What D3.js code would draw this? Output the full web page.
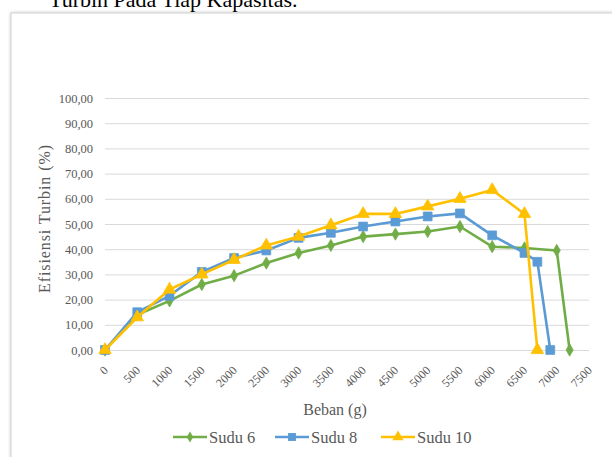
<!DOCTYPE html>
<html>
<head>
<meta charset="utf-8">
<script src="https://cdn.jsdelivr.net/npm/d3@7"></script>
<style>
  html, body { margin: 0; padding: 0; background: #fff; overflow: hidden; }
  svg { display: block; }
</style>
</head>
<body>
<svg id="chart" width="612" height="457"></svg>
<script>
// Beban (g) for each series
const loads6  = [0, 500, 1000, 1500, 2000, 2500, 3000, 3500, 4000, 4500, 5000, 5500, 6000, 6500, 7000, 7200];
const loads8  = [0, 500, 1000, 1500, 2000, 2500, 3000, 3500, 4000, 4500, 5000, 5500, 6000, 6500, 6700, 6900];
const loads10 = [0, 500, 1000, 1500, 2000, 2500, 3000, 3500, 4000, 4500, 5000, 5500, 6000, 6500, 6700];

// Efisiensi turbin (%)
const sudu6  = [0, 14.0, 19.5, 26.0, 29.5, 34.5, 38.5, 41.5, 45.0, 46.0, 47.0, 49.0, 41.0, 40.5, 39.5, 0];
const sudu8  = [0, 15.0, 21.5, 31.0, 36.5, 39.5, 44.5, 46.5, 49.0, 51.0, 53.0, 54.2, 45.5, 38.5, 35.0, 0];
const sudu10 = [0, 13.0, 24.0, 30.0, 35.8, 41.5, 45.0, 49.5, 54.0, 54.0, 57.0, 60.0, 63.5, 54.0, 0];

const seriesNames = ["Sudu 6", "Sudu 8", "Sudu 10"];
const xTicks = d3.range(0, 7501, 500);
const yTicks = d3.range(0, 101, 10);

const colors = { "Sudu 6": "#70ad47", "Sudu 8": "#5b9bd5", "Sudu 10": "#ffc000" };
const shapes = { "Sudu 6": d3.symbolDiamond, "Sudu 8": d3.symbolSquare, "Sudu 10": d3.symbolTriangle };
const sizes  = { "Sudu 6": 44, "Sudu 8": 78, "Sudu 10": 68 };

const series = [
  { name: "Sudu 6",  pts: loads6.map((x, i) => [x, sudu6[i]]) },
  { name: "Sudu 8",  pts: loads8.map((x, i) => [x, sudu8[i]]) },
  { name: "Sudu 10", pts: loads10.map((x, i) => [x, sudu10[i]]) }
];

const svg = d3.select("#chart");
const serif = "'Liberation Serif', 'Times New Roman', serif";

// page heading above the figure frame
svg.append("text")
  .attr("x", 49).attr("y", 7)
  .attr("font-family", serif).attr("font-size", 22)
  .attr("fill", "#000")
  .text("Turbin Pada Tiap Kapasitas.");

// figure frame with soft shadow
const defs = svg.append("defs");
const f = defs.append("filter").attr("id", "shadow")
  .attr("x", "-5%").attr("y", "-5%").attr("width", "110%").attr("height", "110%");
f.append("feDropShadow").attr("dx", 0).attr("dy", 0).attr("stdDeviation", 1.8)
  .attr("flood-color", "#000").attr("flood-opacity", 0.25);

svg.append("rect")
  .attr("x", 11).attr("y", 13).attr("width", 640).attr("height", 480)
  .attr("fill", "#fff").attr("stroke", "#d0d0d0").attr("stroke-width", 1)
  .attr("filter", "url(#shadow)");

const plot = { left: 105, right: 589, top: 98, bottom: 350 };

const x = d3.scaleLinear().domain([0, 7500]).range([plot.left, plot.right]);
const y = d3.scaleLinear().domain([0, 100]).range([plot.bottom, plot.top]);

// horizontal gridlines + y labels
const yAxis = d3.axisLeft(y)
  .tickValues(yTicks)
  .tickSize(-(plot.right - plot.left))
  .tickPadding(12)
  .tickFormat(d => d3.format(".2f")(d).replace(".", ","));

const gy = svg.append("g")
  .attr("transform", `translate(${plot.left},0)`)
  .call(yAxis);
gy.select(".domain").remove();
gy.selectAll(".tick line").attr("stroke", "#d9d9d9").attr("stroke-width", 1);
gy.selectAll(".tick text")
  .attr("font-family", serif).attr("font-size", 12.5).attr("fill", "#595959");

// x labels, rotated
const xAxis = d3.axisBottom(x).tickValues(xTicks).tickSize(0).tickFormat(d3.format("d"));
const gx = svg.append("g")
  .attr("transform", `translate(0,${plot.bottom})`)
  .call(xAxis);
gx.select(".domain").remove();
gx.selectAll(".tick text")
  .attr("font-family", serif).attr("font-size", 12).attr("fill", "#595959")
  .attr("text-anchor", "end")
  .attr("dy", 0)
  .attr("transform", "translate(1,19) rotate(-45)");

// axis titles
svg.append("text")
  .attr("transform", "translate(50,219) rotate(-90)")
  .attr("text-anchor", "middle")
  .attr("font-family", serif).attr("font-size", 16).attr("fill", "#595959")
  .attr("textLength", 148).attr("lengthAdjust", "spacing")
  .text("Efisiensi Turbin (%)");

svg.append("text")
  .attr("x", 335).attr("y", 415)
  .attr("text-anchor", "middle")
  .attr("font-family", serif).attr("font-size", 16).attr("fill", "#595959")
  .text("Beban (g)");

// series lines and markers
const line = d3.line().x(d => x(d[0])).y(d => y(d[1]));

series.forEach(s => {
  const g = svg.append("g");
  g.append("path")
    .datum(s.pts)
    .attr("d", line)
    .attr("fill", "none")
    .attr("stroke", colors[s.name])
    .attr("stroke-width", 2.6)
    .attr("stroke-linejoin", "round");
  g.selectAll("path.m")
    .data(s.pts)
    .join("path")
    .attr("class", "m")
    .attr("transform", d => `translate(${x(d[0])},${y(d[1])})`)
    .attr("d", d3.symbol().type(shapes[s.name]).size(sizes[s.name]))
    .attr("fill", colors[s.name])
    .attr("stroke", colors[s.name])
    .attr("stroke-width", 0.75);
});

// legend
const legendX = [173, 275, 381];
const leg = svg.append("g").attr("transform", "translate(0,437)");
seriesNames.forEach((n, i) => {
  const gi = leg.append("g").attr("transform", `translate(${legendX[i]},0)`);
  gi.append("line").attr("x1", 0).attr("x2", 34).attr("y1", 0).attr("y2", 0)
    .attr("stroke", colors[n]).attr("stroke-width", 2.6);
  gi.append("path")
    .attr("transform", "translate(17,0)")
    .attr("d", d3.symbol().type(shapes[n]).size(sizes[n] * 0.8))
    .attr("fill", colors[n]);
  gi.append("text")
    .attr("x", 36).attr("y", 5.5)
    .attr("font-family", serif).attr("font-size", 16.5).attr("fill", "#595959")
    .text(n);
});
</script>
</body>
</html>
